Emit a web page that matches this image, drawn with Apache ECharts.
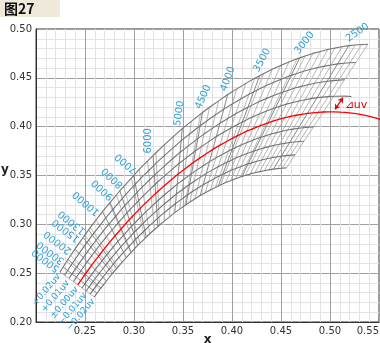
<!DOCTYPE html>
<html><head><meta charset="utf-8">
<script src="https://cdn.jsdelivr.net/npm/echarts@6/dist/echarts.min.js"></script>
<style>html,body{margin:0;padding:0;background:#fff}#c{width:380px;height:343px}</style>
</head><body><div id="c"></div>
<script>
// Planckian locus in CIE 1960 uv, indexed by reciprocal temperature (mired), with isotemperature slope
const locusMired = [10,20,30,33.33,40,50,60,66.67,70,76.92,80,90,100,110,111.11,120,125,130,140,142.86,150,160,166.67,170,180,190,200,210,220,222.22,230,240,250,260,270,280,285.71,290,300,310,320,330,333.33,340,350,360,370,380,390,400,410,420,430,440,450,465,475,500,525,550,575,600];
const locusU = [.18066,.18133,.18208,.18236,.18293,.18388,.18494,.18572,.18611,.18700,.18740,.18880,.19032,.19204,.19223,.19376,.19462,.19562,.19762,.19819,.19962,.20187,.20337,.20412,.20648,.20895,.21142,.21408,.21674,.21733,.21948,.22229,.22511,.22805,.23100,.23400,.23574,.23705,.24010,.24323,.24636,.24952,.25058,.25271,.25591,.25915,.26238,.26564,.26891,.27218,.27546,.27875,.28204,.28533,.28863,.29356,.29685,.30505,.31320,.32129,.32931,.33724];
const locusV = [.26589,.26846,.27119,.27215,.27407,.27709,.28021,.28235,.28342,.28568,.28668,.28997,.29326,.29652,.29688,.29978,.30141,.30297,.30609,.30698,.30921,.31211,.31405,.31502,.31780,.32046,.32312,.32551,.32790,.32843,.33015,.33227,.33439,.33625,.33811,.33985,.34077,.34146,.34308,.34447,.34586,.34714,.34754,.34833,.34951,.35051,.35150,.35241,.35324,.35407,.35475,.35543,.35604,.35659,.35714,.35779,.35823,.35907,.35968,.36011,.36038,.36051];
const isoSlope = [-.25479,-.26876,-.28539,-.29183,-.30470,-.32675,-.35156,-.36996,-.37915,-.40019,-.40955,-.44278,-.47888,-.52014,-.52473,-.56141,-.58204,-.60657,-.65564,-.66966,-.70471,-.76243,-.80091,-.82015,-.88285,-.95052,-1.0182,-1.09764,-1.17708,-1.19474,-1.26368,-1.35744,-1.4512,-1.56264,-1.67408,-1.79658,-1.87291,-1.93014,-2.0637,-2.22546,-2.38722,-2.5673,-2.63343,-2.7657,-2.9641,-3.21102,-3.45794,-3.73778,-4.05054,-4.3633,-4.76846,-5.17362,-5.6462,-6.1862,-6.7262,-7.848,-8.5955,-11.324,-15.628,-23.325,-40.770,-116.45];
// isotemperature grid: range in mired, deviation levels
const gridMiredMax = 430;
const refLineMiredMax = 465;
const arrowMired = 450;
const duvLevels = [0.02,0.015,0.01,0.005,0,-0.005,-0.01,-0.015,-0.02];
const duvLabelLevels = [0.02,0.01,0,-0.01,-0.02];
const duvLabelText = ['+0.02uv','+0.01uv','\u00b10.00uv','\u22120.01uv','\u22120.02uv'];
const labelTemps = [50000,30000,20000,15000,13000,10000,9000,8000,7000,6000,5000,4500,4000,3500,3000,2500];
const xTicks = [0.20,0.25,0.30,0.35,0.40,0.45,0.50,0.55];
const yTicks = [0.20,0.25,0.30,0.35,0.40,0.45,0.50];

// label presentation only: rotation (degrees) and small nudge (px)
const labelRotation = [143,143,143,143,141,139,137,137,140,90,82,66,70,61,52,34];
const labelNudge = [[0,0],[0,0],[0,0],[0,0],[0,0],[0,0],[6,-6],[6,-6],[6,-6],[0,0],[0,0],[0,0],[0,0],[0,0],[0,0],[0,0]];

function toXY(u,v){const d=2*u-8*v+4;return [3*u/d,2*v/d];}
function node(i,k){const t=isoSlope[i];const n=Math.sqrt(1+t*t);return toXY(locusU[i]-k/n,locusV[i]-k*t/n);}
function findIdx(m){for(let i=0;i<locusMired.length;i++){if(Math.abs(locusMired[i]-m)<0.02)return i;}return -1;}

const labeledIdx = labelTemps.map(T=>findIdx(1e6/T));
const meshIdx = [];
locusMired.forEach((m,i)=>{if(m<=gridMiredMax)meshIdx.push(i);});

const series = [];
const common = {type:'line',symbol:'none',silent:true,animation:false,z:3};
meshIdx.forEach(i=>{
  const lab = labeledIdx.indexOf(i)>=0;
  series.push(Object.assign({},common,{data:[node(i,-0.02),node(i,0.02)],
    lineStyle:{color:lab?'#888':'#a6a6a6',width:lab?1:0.8},z:lab?3:2}));
});
duvLevels.forEach(k=>{
  if(k===0)return;
  const idx = locusMired.map((m,i)=>i).filter(i=>locusMired[i]<=(k===0.005?refLineMiredMax:gridMiredMax));
  series.push(Object.assign({},common,{data:idx.map(i=>node(i,k)),
    lineStyle:{color:'#737373',width:1.1},z:4}));
});
series.push(Object.assign({},common,{data:locusMired.map((m,i)=>node(i,0)),
  lineStyle:{color:'#ff0000',width:1.3},z:6}));
const ai = findIdx(arrowMired);
series.push({type:'lines',coordinateSystem:'cartesian2d',silent:true,animation:false,z:7,
  symbol:['arrow','arrow'],symbolSize:5,
  lineStyle:{color:'#e00000',width:1.2,opacity:1},
  data:[{coords:[node(ai,0.0008),node(ai,0.0045)]}]});

const chart = echarts.init(document.getElementById('c'));
const axisFont = {fontFamily:'DejaVu Sans',fontSize:10,color:'#333'};
const nameFont = {fontFamily:'DejaVu Sans',fontWeight:'bold',fontSize:12,color:'#222'};
chart.setOption({
  animation:false,
  grid:{left:36,right:1,top:29,bottom:21,containLabel:false,outerBoundsMode:'none',show:true,borderColor:'#333',borderWidth:1,backgroundColor:'#fff'},
  xAxis:{type:'value',min:xTicks[0],max:xTicks[xTicks.length-1],interval:0.05,
    name:'x',nameLocation:'middle',nameGap:12,nameMoveOverlap:false,nameTextStyle:Object.assign({verticalAlign:'top'},nameFont),
    axisLine:{lineStyle:{color:'#333'}},axisTick:{show:false},
    axisLabel:Object.assign({margin:4,showMinLabel:false,alignMaxLabel:'right',formatter:v=>v.toFixed(2)},axisFont),
    splitLine:{show:true,lineStyle:{color:'#a0a0a0',width:1}},
    minorTick:{show:false,splitNumber:5},minorSplitLine:{show:true,lineStyle:{color:'#e2e2e2',width:1}}},
  yAxis:{type:'value',min:yTicks[0],max:yTicks[yTicks.length-1],interval:0.05,
    name:'y',nameLocation:'middle',nameGap:31,nameRotate:0,nameMoveOverlap:false,
    nameTextStyle:Object.assign({align:'center',verticalAlign:'bottom'},nameFont),
    axisLine:{lineStyle:{color:'#333'}},axisTick:{show:false},
    axisLabel:Object.assign({margin:4,formatter:v=>v.toFixed(2)},axisFont),
    splitLine:{show:true,lineStyle:{color:'#a0a0a0',width:1}},
    minorTick:{show:false,splitNumber:5},minorSplitLine:{show:true,lineStyle:{color:'#e2e2e2',width:1}}},
  series:series
});

const px = p=>chart.convertToPixel({gridIndex:0},p);
const g = [];
g.push({type:'rect',shape:{x:0,y:0,width:60,height:17},style:{fill:'#efe9da'},z:10});
g.push({type:'text',x:4,y:9,style:{text:'图27',font:'bold 14px "Noto Sans CJK SC"',fill:'#111',textAlign:'left',textVerticalAlign:'middle',align:'left',verticalAlign:'middle'},z:11});
const blue = '#2f9fd3';
labeledIdx.forEach((i,j)=>{
  const top = px(node(i,0.02)), bot = px(node(i,-0.02));
  let dx=top[0]-bot[0], dy=top[1]-bot[1]; const L=Math.hypot(dx,dy); dx/=L; dy/=L;
  const gap = 2;
  g.push({type:'text',x:top[0]+dx*gap+labelNudge[j][0],y:top[1]+dy*gap+labelNudge[j][1],rotation:labelRotation[j]*Math.PI/180,
    style:{text:String(labelTemps[j]),font:'10px "DejaVu Sans"',fill:blue,textAlign:'left',textVerticalAlign:'bottom',align:'left',verticalAlign:'bottom'},z:12});
});
const i0 = meshIdx[0];
duvLabelLevels.forEach((k,j)=>{
  const p = px(node(i0,k));
  g.push({type:'text',x:p[0]-1,y:p[1]+3,rotation:50*Math.PI/180,
    style:{text:duvLabelText[j],font:'9px "DejaVu Sans"',fill:blue,textAlign:'right',textVerticalAlign:'middle',align:'right',verticalAlign:'middle'},z:12});
});
const am = px(node(ai,0.0025));
g.push({type:'text',x:am[0]+6,y:am[1]+1,style:{text:'\u22bfuv',font:'11px "DejaVu Sans"',fill:'#e00000',textAlign:'left',textVerticalAlign:'middle',align:'left',verticalAlign:'middle'},z:12});
chart.setOption({graphic:g});
</script></body></html>
